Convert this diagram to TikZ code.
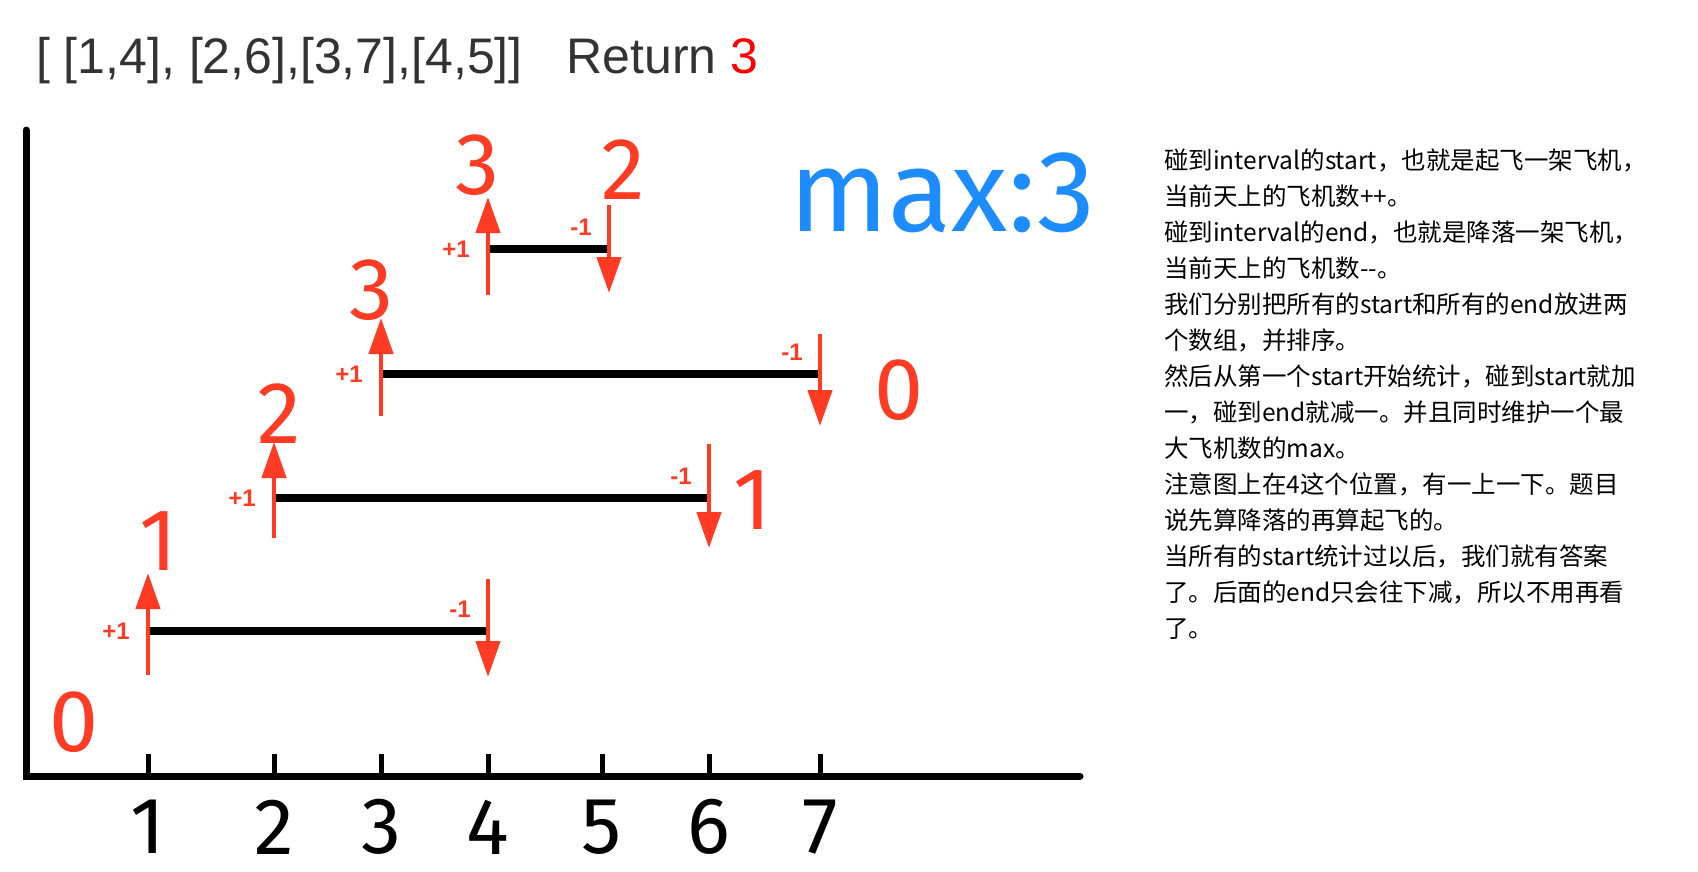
\documentclass[tikz,border=0pt]{standalone}
\usepackage{fontspec}
\setmainfont{Liberation Sans}
\newfontfamily\cjkfont{Noto Sans CJK SC}
\newfontfamily\handfont{Fira Sans}
\usetikzlibrary{arrows.meta,positioning}
\definecolor{marker}{RGB}{255,59,35}
\definecolor{pen}{RGB}{28,140,255}
\definecolor{ink}{RGB}{51,51,51}

\begin{document}
\begin{tikzpicture}[x=1pt, y=-1pt, >={Triangle[length=36pt,width=24pt]},
  bar/.style={line width=8pt},
  axis/.style={line width=7pt, line cap=round},
  tick/.style={line width=5pt},
  rise/.style={->, marker, line width=4.5pt},
  fall/.style={->, marker, line width=4.5pt},
  delta/.style={text=marker, font=\bfseries\fontsize{24}{24}\selectfont, inner sep=0},
  tally/.style={text=marker, font=\handfont\fontsize{88}{88}\selectfont, inner sep=0},
  ticklabel/.style={font=\handfont\fontsize{80}{80}\selectfont, inner sep=0}]
  \useasboundingbox (0,0) rectangle (1698,871);

  % problem line
  \node[anchor=base west, inner sep=0, text=ink, font=\fontsize{50}{50}\selectfont] (title) at (36,73)
    {[ [1,4], [2,6],[3,7],[4,5]]\hspace{44pt}Return \textcolor{red}{3}};

  % axes
  \coordinate (o) at (26,776);
  \coordinate (top) at (26,130);
  \coordinate (right) at (1080,776);
  \draw[axis] (top) -- (o) -- (right);

  % ticks 1..7
  \coordinate (t1) at (148,776);
  \coordinate (t2) at (274,776);
  \coordinate (t3) at (381,776);
  \coordinate (t4) at (488,776);
  \coordinate (t5) at (602,776);
  \coordinate (t6) at (709,776);
  \coordinate (t7) at (820,776);
  \foreach \t in {1,...,7} {
    \draw[tick] (t\t) -- ([yshift=22pt]t\t);
    \node[ticklabel] (l\t) at ([yshift=-51pt]t\t) {\t};
  }

  % interval [1,4]
  \coordinate (a1) at (148,631);
  \coordinate (a2) at (488,631);
  \draw[bar] (a1) -- (a2);
  \draw[rise] ([yshift=-44pt]a1) -- ([yshift=58pt]a1);
  \draw[fall] ([yshift=52pt]a2) -- ([yshift=-46pt]a2);
  \node[delta] (ap) at ([xshift=-32pt]a1) {+1};
  \node[delta] (am) at ([xshift=-28pt,yshift=22pt]a2) {-1};

  % interval [2,6]
  \coordinate (b1) at (274,498);
  \coordinate (b2) at (709,498);
  \draw[bar] (b1) -- (b2);
  \draw[rise] ([yshift=-40pt]b1) -- ([yshift=56pt]b1);
  \draw[fall] ([yshift=54pt]b2) -- ([yshift=-50pt]b2);
  \node[delta] (bp) at ([xshift=-32pt]b1) {+1};
  \node[delta] (bm) at ([xshift=-28pt,yshift=22pt]b2) {-1};

  % interval [3,7]
  \coordinate (c1) at (381,374);
  \coordinate (c2) at (820,374);
  \draw[bar] (c1) -- (c2);
  \draw[rise] ([yshift=-42pt]c1) -- ([yshift=56pt]c1);
  \draw[fall] ([yshift=40pt]c2) -- ([yshift=-52pt]c2);
  \node[delta] (cp) at ([xshift=-32pt]c1) {+1};
  \node[delta] (cm) at ([xshift=-28pt,yshift=22pt]c2) {-1};

  % interval [4,5]
  \coordinate (d1) at (488,249);
  \coordinate (d2) at (609,249);
  \draw[bar] (d1) -- (d2);
  \draw[rise] ([yshift=-46pt]d1) -- ([yshift=52pt]d1);
  \draw[fall] ([yshift=44pt]d2) -- ([yshift=-44pt]d2);
  \node[delta] (dp) at ([xshift=-32pt]d1) {+1};
  \node[delta] (dm) at ([xshift=-28pt,yshift=22pt]d2) {-1};

  % counts in the sky
  \node[tally] (n0) at (74,722) {0};
  \node[tally] (n1) at (159,541) {1};
  \node[tally] (n2) at (279,414) {2};
  \node[tally] (n3) at (371,290) {3};
  \node[tally] (n4) at (477,165) {3};
  \node[tally] (n5) at (623,170) {2};
  \node[tally] (n6) at (753,500) {1};
  \node[tally] (n7) at (899,390) {0};
  \node[text=pen, font=\handfont\fontsize{116}{116}\selectfont, inner sep=0] (best) at (942,193) {max:3};

  % notes
  \node[anchor=north west, align=left, inner sep=0, font=\cjkfont\fontsize{24.5}{36}\selectfont] (notes) at (1164,149)
    {碰到interval的start，也就是起飞一架飞机，\\
     当前天上的飞机数++。\\
     碰到interval的end，也就是降落一架飞机，\\
     当前天上的飞机数--。\\
     我们分别把所有的start和所有的end放进两\\
     个数组，并排序。\\
     然后从第一个start开始统计，碰到start就加\\
     一，碰到end就减一。并且同时维护一个最\\
     大飞机数的max。\\
     注意图上在4这个位置，有一上一下。题目\\
     说先算降落的再算起飞的。\\
     当所有的start统计过以后，我们就有答案\\
     了。后面的end只会往下减，所以不用再看\\
     了。};
\end{tikzpicture}
\end{document}
